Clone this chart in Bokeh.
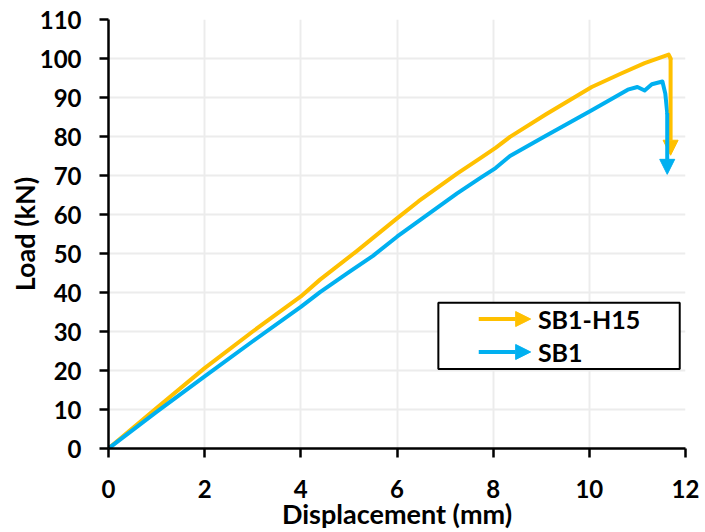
from bokeh.plotting import figure
from bokeh.models import (Range1d, FixedTicker, Arrow, NormalHead, BoxAnnotation, Label)
from bokeh.embed import file_html
from bokeh.resources import INLINE

# ---- data ----
h15_x = [0, 1.0, 2.0, 3.0, 4.0, 4.4, 5.15, 6.0, 6.45, 7.25, 7.75, 8.05, 8.35, 9.1,
         10.05, 10.65, 11.15, 11.65, 11.69, 11.69]
h15_y = [0, 10.4, 20.6, 30.0, 39.0, 43.3, 50.5, 59.0, 63.4, 70.5, 74.6, 77.1, 79.9, 85.7,
         92.7, 96.1, 98.8, 101.0, 100.0, 75.2]

sb1_x = [0, 1.0, 2.0, 3.0, 4.0, 4.4, 5.0, 5.5, 6.0, 7.25, 7.75, 8.05, 8.35, 9.05,
         10.05, 10.8, 11.0, 11.15, 11.3, 11.52, 11.58, 11.62, 11.62]
sb1_y = [0, 9.4, 18.5, 27.5, 36.3, 40.1, 45.2, 49.4, 54.3, 65.4, 69.5, 71.9, 75.0, 79.9,
         86.7, 92.0, 92.7, 91.8, 93.4, 94.1, 91.0, 86.0, 70.3]

series_names = ["SB1-H15", "SB1"]
series_colors = ["#FFC000", "#00B0F0"]
x_ticks = [0, 2, 4, 6, 8, 10, 12]
y_ticks = [0, 10, 20, 30, 40, 50, 60, 70, 80, 90, 100, 110]

FONT = "Lato"

p = figure(width=705, height=532, output_backend="svg", toolbar_location=None,
           x_range=Range1d(0, 12), y_range=Range1d(0, 110),
           min_border_left=108, min_border_right=20, min_border_top=19, min_border_bottom=83)
p.outline_line_color = None
p.background_fill_color = "white"
p.border_fill_color = "white"

for ax, ticks in ((p.xaxis, x_ticks), (p.yaxis, y_ticks)):
    ax.ticker = FixedTicker(ticks=ticks)
    ax.axis_line_color = "black"
    ax.axis_line_width = 2.5
    ax.major_tick_line_color = "black"
    ax.major_tick_line_width = 2.5
    ax.major_tick_in = 0
    ax.major_tick_out = 9
    ax.minor_tick_line_color = None
    ax.major_label_text_font = FONT
    ax.major_label_text_font_style = "bold"
    ax.major_label_text_font_size = "24px"
    ax.major_label_text_color = "black"
    ax.axis_label_text_font = FONT
    ax.axis_label_text_font_style = "bold"
    ax.axis_label_text_font_size = "27px"
    ax.axis_label_text_color = "black"

p.xaxis.axis_label = "Displacement (mm)"
p.yaxis.axis_label = "Load (kN)"
p.xaxis.major_label_standoff = 22
p.xaxis.axis_label_standoff = -4
p.yaxis.major_label_standoff = 18
p.yaxis.axis_label_standoff = -4

p.xgrid.ticker = FixedTicker(ticks=x_ticks)
p.ygrid.ticker = FixedTicker(ticks=y_ticks)
p.grid.grid_line_color = "#ececec"
p.grid.grid_line_width = 2

# ---- curves with arrow heads at the end ----
for xs, ys, c in ((h15_x, h15_y, series_colors[0]), (sb1_x, sb1_y, series_colors[1])):
    p.line(xs[:-1], ys[:-1], line_color=c, line_width=4, line_join="round", line_cap="round")
    p.add_layout(Arrow(end=NormalHead(size=15, fill_color=c, line_color=c, line_width=1),
                       x_start=xs[-2], y_start=ys[-2], x_end=xs[-1], y_end=ys[-1],
                       line_color=c, line_width=4))

# ---- legend (manual, with arrows) ----
leg_left, leg_right, leg_top, leg_bottom = 6.86, 11.88, 37.4, 20.4
p.add_layout(BoxAnnotation(left=leg_left, right=leg_right, top=leg_top, bottom=leg_bottom,
                           fill_color="white", fill_alpha=1.0,
                           line_color="black", line_width=2, line_alpha=1.0))
leg_rows = [33.2, 24.75]
arrow_x0, arrow_x1, text_x = 7.70, 8.78, 8.93
for name, c, yy in zip(series_names, series_colors, leg_rows):
    p.add_layout(Arrow(end=NormalHead(size=15, fill_color=c, line_color=c, line_width=1),
                       x_start=arrow_x0, y_start=yy, x_end=arrow_x1, y_end=yy,
                       line_color=c, line_width=4))
    p.add_layout(Label(x=text_x, y=yy, text=name, text_font=FONT, text_font_style="bold",
                       text_font_size="25px", text_color="black", text_baseline="middle"))

open("out.html", "w").write(file_html(p, INLINE))
